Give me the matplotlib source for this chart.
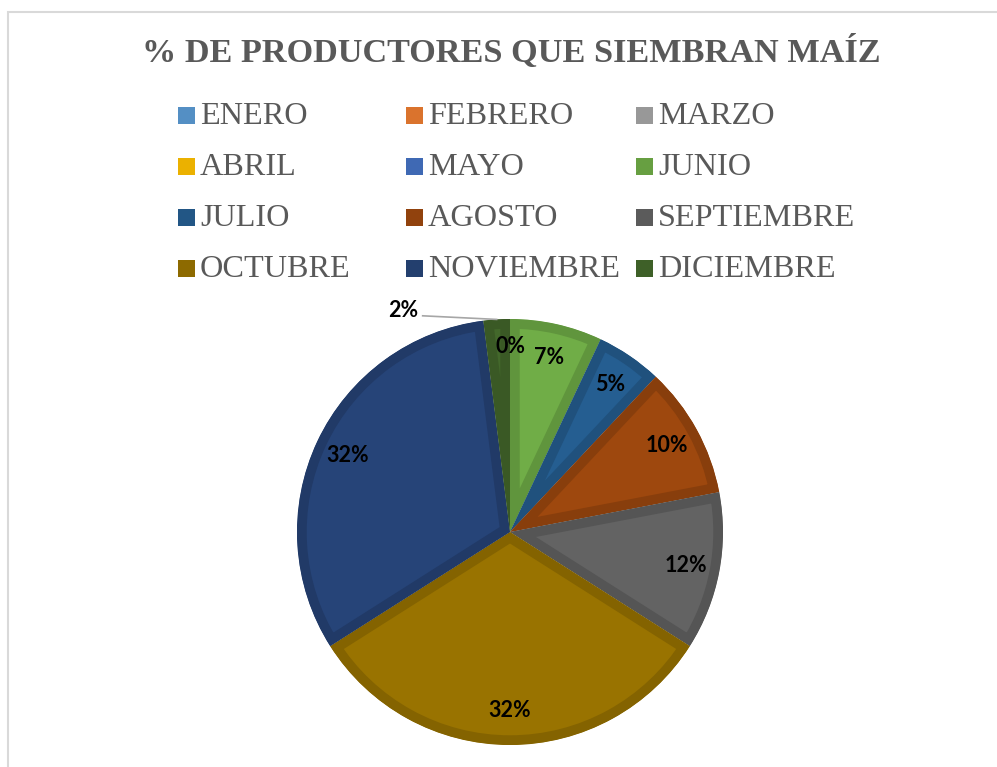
import numpy as np
import matplotlib.pyplot as plt
import matplotlib.colors as mcolors
from matplotlib.patches import Rectangle

months = ["ENERO", "FEBRERO", "MARZO", "ABRIL", "MAYO", "JUNIO",
          "JULIO", "AGOSTO", "SEPTIEMBRE", "OCTUBRE", "NOVIEMBRE", "DICIEMBRE"]
percent = [0, 0, 0, 0, 0, 7, 5, 10, 12, 32, 32, 2]
colors = ["#5B9BD5", "#ED7D31", "#A5A5A5", "#FFC000", "#4472C4", "#70AD47",
          "#255E91", "#9E480E", "#636363", "#997300", "#264478", "#43682B"]
title = "% DE PRODUCTORES QUE SIEMBRAN MAÍZ"

W, H = 997, 767
fig = plt.figure(figsize=(W / 100, H / 100), dpi=100)

def fx(px):
    return px / W

def fy(py):
    return 1 - py / H

def darker(c, f):
    return tuple(np.array(mcolors.to_rgb(c)) * f)

# chart area frame
fig.patches.append(Rectangle((fx(8), fy(1000)), 2, fy(12) - fy(1000),
                             transform=fig.transFigure, fill=False,
                             edgecolor="#D9D9D9", linewidth=1.5))

fig.text(fx(511), fy(52), title, ha="center", va="center",
         family="Liberation Serif", weight="bold", fontsize=24.7, color="#595959")

# legend, 3 columns
col_sq = [178, 406, 636]
row_y = [115.5, 166.5, 217.5, 268.5]
sq = 17
for i, (name, c) in enumerate(zip(months, colors)):
    r, k = divmod(i, 3)
    x0, y0 = col_sq[k], row_y[r]
    fig.patches.append(Rectangle((fx(x0), fy(y0 + sq / 2)), fx(sq), sq / H,
                                 transform=fig.transFigure,
                                 facecolor=darker(c, 0.92), edgecolor="none"))
    fig.text(fx(x0 + 22), fy(y0 + 1), name, ha="left", va="center",
             family="Liberation Serif", fontsize=23.2, color="#595959")

# pie
cx, cy, R = 510, 532, 213
ax = fig.add_axes([fx(cx - R), fy(cy + R), fx(2 * R), 2 * R / H])
wedges, _ = ax.pie(percent, colors=colors, startangle=90, counterclock=False,
                   radius=1, wedgeprops=dict(linewidth=0))
ax.set_xlim(-1, 1)
ax.set_ylim(-1, 1)
ax.set_aspect("auto")
ax.axis("off")

label_font = dict(family="Lato", weight="bold", fontsize=15.5, color="black",
                  ha="center", va="center")
zero_done = False
for w, v, c in zip(wedges, percent, colors):
    if v > 0:
        w.set_edgecolor(darker(c, 0.86))
        w.set_linewidth(14)
        w.set_joinstyle("miter")
        w.set_clip_on(True)
        w.set_clip_path(w.get_path(), w.get_transform())
    mid = np.deg2rad((w.theta1 + w.theta2) / 2)
    if v == 0:
        if not zero_done:
            ax.text(0, 0.87, "0%", **label_font)
            zero_done = True
    elif v <= 2:
        ex, ey = np.cos(mid), np.sin(mid)
        ax.plot([-0.41, ex], [1.015, ey], color="#A6A6A6", lw=1.2,
                clip_on=False)
        ax.text(-0.50, 1.04, f"{v}%", clip_on=False, **label_font)
    else:
        d = 0.84
        ax.text(d * np.cos(mid), d * np.sin(mid), f"{v}%", **label_font)

fig.savefig("out.png", dpi=100)
